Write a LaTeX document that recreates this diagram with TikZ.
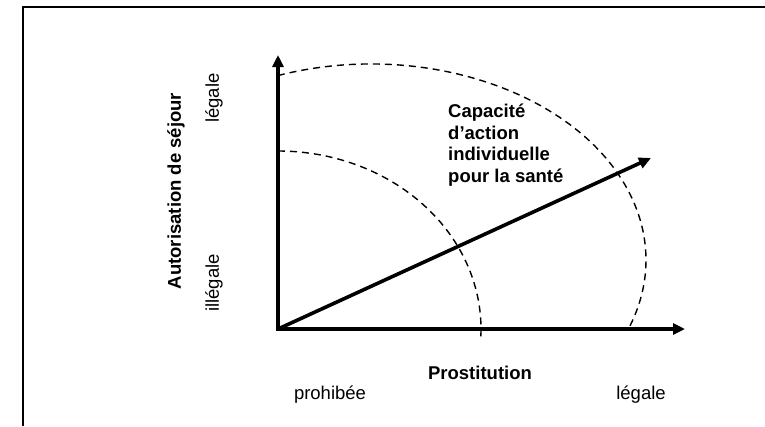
\documentclass[tikz,border=0pt]{standalone}
\usepackage{fontspec}
\setmainfont{Liberation Sans}
\usetikzlibrary{arrows.meta,calc}
\tikzset{
  axis/.style={line width=4pt, -{Triangle[length=12pt,width=11pt]}},
  level/.style={line width=1.4pt, dash pattern=on 7pt off 5pt},
  lbl/.style={font=\fontsize{18.5}{21.5}\selectfont, inner sep=0pt},
  lblb/.style={inner sep=0pt, font=\fontsize{18.5}{21.5}\selectfont\bfseries},
}

\begin{document}
\begin{tikzpicture}[x=1pt,y=1pt]
			%%%%% START %%%%%
			\fill[white] (0,0) rectangle (765,-426);
			\useasboundingbox (0,0) rectangle (765,-426);
			
			\draw[line width=1.5pt] (23,-426) -- (23,-7) -- (765,-7);
			
			\coordinate (O) at (278,-329);
			\coordinate (Ytop) at (278,-55);
			\coordinate (Xend) at (685,-329);
			\coordinate (Dend) at (651,-158);
			
			\draw[level] (278,-151) arc[start angle=90, end angle=-3, x radius=203, y radius=178];
			\draw[level] ($(371,-260)+(109.8:275 and 196)$) arc[start angle=109.8, end angle=-20.5, x radius=275, y radius=196];
			
			\draw[axis] ($(O)+(0,-2)$) -- (Ytop);
			\draw[axis] ($(O)+(-2,0)$) -- (Xend);
			\draw[axis, line width=3.6pt] (O) -- (Dend);
			
			\node[lblb, anchor=north west, align=left] (capa) at (448,-104) {Capacité\\d’action\\individuelle\\pour la santé};
			\node[lblb] (prost) at (480,-373) {Prostitution};
			\node[lbl] (prohib) at (330,-395) {prohibée};
			\node[lbl] (legx) at (641,-395) {légale};
			
			\node[lblb, rotate=90] (autor) at (176,-191) {Autorisation de séjour};
			\node[lbl, rotate=90] (legy) at (214,-98) {légale};
			\node[lbl, rotate=90] (illegy) at (214,-283) {illégale};
			%%%%% END %%%%%
\end{tikzpicture}
\end{document}
